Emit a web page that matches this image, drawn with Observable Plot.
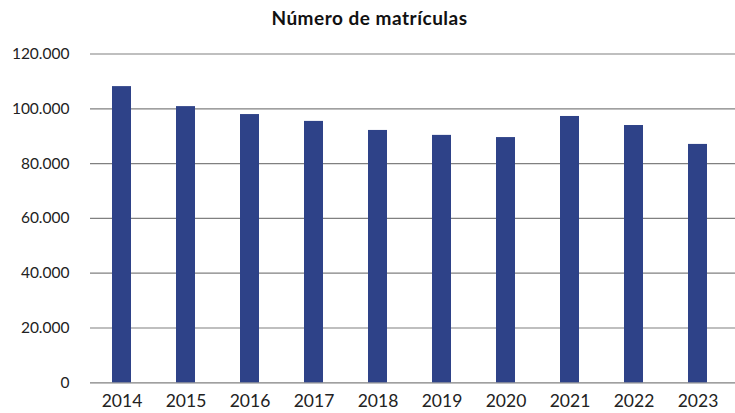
<!DOCTYPE html>
<html>
<head>
<meta charset="utf-8">
<script src="https://cdn.jsdelivr.net/npm/d3@7"></script>
<script src="https://cdn.jsdelivr.net/npm/@observablehq/plot@0.6"></script>
<style>
  body { margin: 0; background: #fff; font-family: Lato, "Open Sans", sans-serif; }
  #title { height: 40px; line-height: 35px; text-align: center; font-weight: bold; font-size: 19px; letter-spacing: 0.5px; color: #111; padding-left: 4px; }
</style>
</head>
<body>
<div id="title">Número de matrículas</div>
<div id="chart"></div>
<script>
const years = ["2014","2015","2016","2017","2018","2019","2020","2021","2022","2023"];
const enrollments = [108100, 100800, 97900, 95400, 92100, 90300, 89500, 97200, 93900, 87000];
const yTicks = [0, 20000, 40000, 60000, 80000, 100000, 120000];

const data = years.map((y, i) => ({year: y, value: enrollments[i]}));
const fmt = d => d3.format(",")(d).replace(/,/g, ".");

const chart = Plot.plot({
  width: 735,
  height: 373,
  marginTop: 13.5,
  marginBottom: 30.7,
  marginLeft: 89,
  marginRight: 5,
  style: { fontFamily: "Lato, 'Open Sans', sans-serif", background: "#fff", color: "#222" },
  x: { domain: years, paddingInner: 0.7, paddingOuter: 0.35, label: null },
  y: { domain: [0, 120000], label: null, ticks: yTicks },
  marks: [
    Plot.ruleY(yTicks, { stroke: "#808080", strokeWidth: 1.2, insetRight: -5, insetLeft: 1 }),
    Plot.barY(data, { x: "year", y: "value", fill: "#2e4288" }),
    Plot.axisY({ ticks: yTicks, tickSize: 0, tickPadding: 20, tickFormat: fmt, fontSize: 15.5, label: null }),
    Plot.axisX({ tickSize: 0, tickPadding: 12, fontSize: 17.5, label: null })
  ]
});
document.getElementById("chart").appendChild(chart);
</script>
</body>
</html>
